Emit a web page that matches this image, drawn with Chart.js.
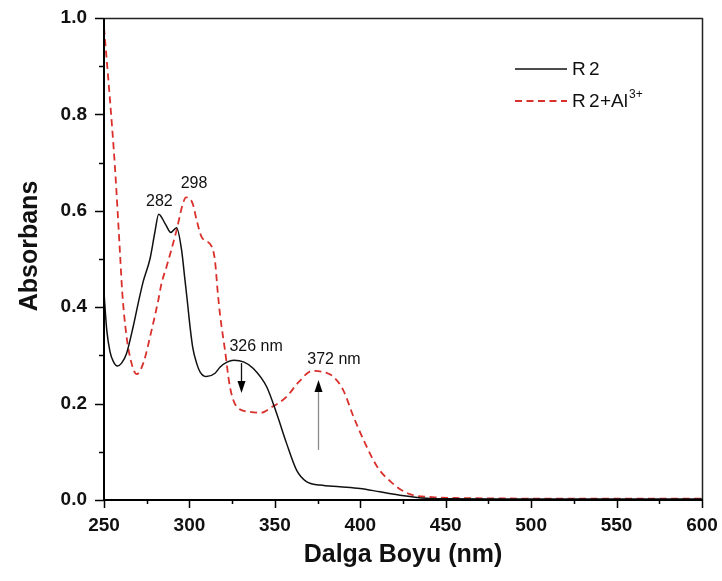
<!DOCTYPE html>
<html>
<head>
<meta charset="utf-8">
<script src="https://cdn.jsdelivr.net/npm/chart.js@4.4.1/dist/chart.umd.min.js"></script>
<style>
  html, body { margin: 0; padding: 0; background: #ffffff; }
  #wrap { width: 722px; height: 581px; position: relative; }
</style>
</head>
<body>
<div id="wrap"><canvas id="chart" width="722" height="581"></canvas></div>
<script>
// UV-Vis absorption spectra: ligand R2 alone and after Al3+ addition
const r2Wavelength = [250, 251.6, 253.5, 255.5, 257.8, 260.3, 263.2, 267.1, 270, 273, 276.9, 279.8, 282,
  286, 289.1, 292.5, 295.4, 297.4, 298.7, 300.5, 302, 304.2, 306.2, 310, 315, 318, 322, 326, 332,
  337.4, 345.2, 351, 356.8, 362.7, 368.5, 376.4, 388, 399.8, 411.5, 423.2, 438.8, 450, 500, 550, 600];
const r2Absorbance = [0.43, 0.353, 0.308, 0.287, 0.278, 0.284, 0.304, 0.36, 0.408, 0.454, 0.5, 0.556, 0.593,
  0.572, 0.555, 0.565, 0.519, 0.456, 0.415, 0.355, 0.315, 0.284, 0.266, 0.256, 0.263, 0.276, 0.286, 0.29, 0.286,
  0.273, 0.235, 0.18, 0.118, 0.062, 0.038, 0.031, 0.0276, 0.024, 0.017, 0.01, 0.0035, 0.0025, 0.002, 0.002, 0.002];

const r2AlWavelength = [250, 253.5, 256.4, 259.4, 260.7, 263.2, 266.1, 269.1, 273, 277.9, 281.8, 283.7, 286.6,
  292.5, 295.8, 298, 301.9, 304.2, 307.1, 313, 314.9, 316.6, 317.9, 320.8, 323.7, 327.6, 335.3, 342.1, 347.9,
  356.8, 364, 372, 379, 384.2, 390, 396, 402, 409.9, 417.8, 427.6, 443.3, 460, 500, 550, 600];
const r2AlAbsorbance = [0.98, 0.83, 0.691, 0.51, 0.43, 0.339, 0.284, 0.261, 0.284, 0.353, 0.415, 0.45, 0.484,
  0.56, 0.61, 0.628, 0.615, 0.581, 0.546, 0.526, 0.498, 0.43, 0.385, 0.311, 0.235, 0.194, 0.183, 0.181, 0.192,
  0.214, 0.245, 0.268, 0.265, 0.256, 0.228, 0.173, 0.124, 0.069, 0.038, 0.014, 0.0056, 0.004, 0.003, 0.003, 0.003];

const xTicks = [250, 300, 350, 400, 450, 500, 550, 600];
const yTicks = [0.0, 0.2, 0.4, 0.6, 0.8, 1.0];

// peak annotations: text anchored at [wavelength, absorbance]
const peakLabels = [
  { text: '282', at: [282.4, 0.619] },
  { text: '298', at: [302.7, 0.656] },
  { text: '326 nm', at: [339, 0.318] },
  { text: '372 nm', at: [384.6, 0.292] }
];
// change arrows: [wavelength, from absorbance, to absorbance]
const changeArrows = [
  { at: [330, 0.284, 0.222], shaft: '#111111' },
  { at: [375.4, 0.104, 0.249], shaft: '#8a8a8a' }
];

const FONT = '"Liberation Sans", Arial, Helvetica, sans-serif';
const BLACK = '#111111';
const RED = '#d9302c';

function toPoints(xs, ys) { return xs.map((x, i) => ({ x: x, y: ys[i] })); }

// keep the plot box fixed: no extra room reserved for half-labels at the ends
function noEdgePadding(scale) {
  scale.paddingTop = 0; scale.paddingBottom = 0;
  scale.paddingLeft = 0; scale.paddingRight = 0;
}

const framePlugin = {
  id: 'frameAndMarks',
  afterDatasetsDraw(chart) {
    const { ctx, chartArea: a, scales: { x, y } } = chart;
    ctx.save();
    // tick marks (major with labels, minor halfway between)
    ctx.strokeStyle = '#000';
    ctx.lineWidth = 1.5;
    ctx.beginPath();
    xTicks.forEach((v, i) => {
      const px = Math.round(x.getPixelForValue(v)) + 0.5;
      ctx.moveTo(px, a.bottom); ctx.lineTo(px, a.bottom + 8);
      if (i < xTicks.length - 1) {
        const m = Math.round(x.getPixelForValue((v + xTicks[i + 1]) / 2)) + 0.5;
        ctx.moveTo(m, a.bottom); ctx.lineTo(m, a.bottom + 4);
      }
    });
    yTicks.forEach((v, i) => {
      const py = Math.round(y.getPixelForValue(v)) + 0.5;
      ctx.moveTo(a.left, py); ctx.lineTo(a.left - 9, py);
      if (i < yTicks.length - 1) {
        const m = Math.round(y.getPixelForValue((v + yTicks[i + 1]) / 2)) + 0.5;
        ctx.moveTo(a.left, m); ctx.lineTo(a.left - 5, m);
      }
    });
    ctx.stroke();
    // frame: heavier left/bottom axes, lighter top/right
    ctx.lineWidth = 1.5;
    ctx.strokeStyle = '#222';
    ctx.beginPath();
    ctx.moveTo(a.left, a.top + 0.5); ctx.lineTo(a.right + 0.5, a.top + 0.5);
    ctx.moveTo(a.right + 0.5, a.top); ctx.lineTo(a.right + 0.5, a.bottom);
    ctx.stroke();
    ctx.lineWidth = 2;
    ctx.strokeStyle = '#000';
    ctx.beginPath();
    ctx.moveTo(a.left, a.top); ctx.lineTo(a.left, a.bottom + 1);
    ctx.moveTo(a.left - 1, a.bottom); ctx.lineTo(a.right + 1, a.bottom);
    ctx.stroke();

    // y-axis title
    ctx.save();
    ctx.translate(30, 246);
    ctx.rotate(-Math.PI / 2);
    ctx.fillStyle = '#111';
    ctx.font = 'bold 25px ' + FONT;
    ctx.textAlign = 'center';
    ctx.textBaseline = 'middle';
    ctx.fillText('Absorbans', 0, 0);
    ctx.restore();

    // peak labels
    ctx.fillStyle = '#111';
    ctx.font = '16px ' + FONT;
    ctx.textAlign = 'center';
    ctx.textBaseline = 'middle';
    peakLabels.forEach(l => {
      ctx.fillText(l.text, x.getPixelForValue(l.at[0]), y.getPixelForValue(l.at[1]));
    });

    // arrows
    changeArrows.forEach(ar => {
      const px = Math.round(x.getPixelForValue(ar.at[0])) + 0.5;
      const y0 = y.getPixelForValue(ar.at[1]);
      const y1 = y.getPixelForValue(ar.at[2]);
      const dir = Math.sign(y1 - y0);
      const headLen = 12, half = 4;
      ctx.strokeStyle = ar.shaft;
      ctx.lineWidth = 1.3;
      ctx.beginPath();
      ctx.moveTo(px, y0); ctx.lineTo(px, y1 - dir * headLen);
      ctx.stroke();
      ctx.fillStyle = '#000';
      ctx.beginPath();
      ctx.moveTo(px, y1);
      ctx.lineTo(px - half, y1 - dir * headLen);
      ctx.lineTo(px + half, y1 - dir * headLen);
      ctx.closePath();
      ctx.fill();
    });

    // legend
    const ds = chart.data.datasets;
    const rows = [{ ds: ds[0], y: 69 }, { ds: ds[1], y: 101 }];
    ctx.textAlign = 'left';
    ctx.textBaseline = 'middle';
    rows.forEach((r, i) => {
      ctx.strokeStyle = r.ds.borderColor;
      ctx.lineWidth = r.ds.borderWidth;
      ctx.setLineDash(r.ds.borderDash || []);
      ctx.beginPath();
      ctx.moveTo(515, r.y); ctx.lineTo(567, r.y);
      ctx.stroke();
      ctx.setLineDash([]);
      ctx.fillStyle = '#111';
      ctx.font = '19px ' + FONT;
      ctx.fillText('R', 572, r.y + 1);
      ctx.fillText('2', 589, r.y + 1);
      if (i === 1) {
        const sx = 600;
        ctx.fillText('+Al', sx, r.y + 1);
        const w = ctx.measureText('+Al').width;
        ctx.font = '12px ' + FONT;
        ctx.fillText('3+', sx + w + 1, r.y - 6);
      }
    });
    ctx.restore();
  }
};

new Chart(document.getElementById('chart'), {
  type: 'line',
  data: {
    datasets: [
      {
        label: 'R2',
        data: toPoints(r2Wavelength, r2Absorbance),
        borderColor: BLACK,
        borderWidth: 1.5,
        pointRadius: 0,
        cubicInterpolationMode: 'monotone',
        fill: false
      },
      {
        label: 'R2+Al3+',
        data: toPoints(r2AlWavelength, r2AlAbsorbance),
        borderColor: RED,
        borderWidth: 1.8,
        borderDash: [7, 4.5],
        pointRadius: 0,
        cubicInterpolationMode: 'monotone',
        fill: false
      }
    ]
  },
  options: {
    responsive: false,
    animation: false,
    devicePixelRatio: 1,
    layout: { padding: { left: 0, top: 18, right: 20, bottom: 0 } },
    plugins: { legend: { display: false }, tooltip: { enabled: false } },
    scales: {
      x: {
        type: 'linear',
        min: 250,
        max: 600,
        afterFit(scale) { scale.height = 81; noEdgePadding(scale); },
        afterBuildTicks(scale) { scale.ticks = xTicks.map(v => ({ value: v })); },
        grid: { display: false, drawTicks: false },
        border: { display: false },
        ticks: {
          padding: 14,
          color: '#111',
          font: { family: FONT, size: 19, weight: 'bold' },
          maxRotation: 0,
          callback: v => String(v)
        },
        title: {
          display: true,
          text: 'Dalga Boyu (nm)',
          color: '#111',
          font: { family: FONT, size: 25, weight: 'bold' },
          padding: { top: 0, bottom: 11 }
        }
      },
      y: {
        type: 'linear',
        min: 0,
        max: 1,
        afterFit(scale) { scale.width = 104; noEdgePadding(scale); },
        afterBuildTicks(scale) { scale.ticks = yTicks.map(v => ({ value: v })); },
        grid: { display: false, drawTicks: false },
        border: { display: false },
        ticks: {
          padding: 17,
          color: '#111',
          font: { family: FONT, size: 19, weight: 'bold' },
          callback: v => Number(v).toFixed(1)
        },
        title: { display: false }
      }
    }
  },
  plugins: [framePlugin]
});
</script>
</body>
</html>
